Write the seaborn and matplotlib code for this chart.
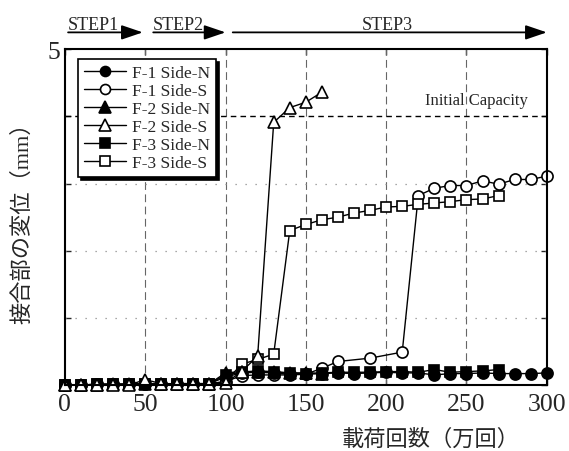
import matplotlib
matplotlib.use("Agg")
import matplotlib.pyplot as plt
import numpy as np
import pandas as pd
import seaborn as sns

# load cycles (x 10^4) and joint displacement (mm)
cycles_f1n = list(range(0, 301, 10))
disp_f1n = [0.00, 0.00, 0.01, 0.01, 0.01, 0.02, 0.01, 0.02, 0.02, 0.02, 0.12,
            0.18, 0.19, 0.18, 0.16, 0.16, 0.17, 0.18, 0.17, 0.18, 0.19,
            0.18, 0.18, 0.15, 0.17, 0.17, 0.18, 0.17, 0.17, 0.17, 0.18]

cycles_f1s = list(range(0, 171, 10)) + [190, 210, 220, 230, 240, 250, 260, 270, 280, 290, 300]
disp_f1s = [0.00, 0.00, 0.01, 0.01, 0.01, 0.02, 0.01, 0.02, 0.02, 0.02, 0.05,
            0.14, 0.15, 0.15, 0.15, 0.16, 0.25, 0.35, 0.40, 0.49,
            2.82, 2.93, 2.97, 2.97, 3.04, 2.99, 3.06, 3.06, 3.11]

cycles_f2n = list(range(0, 161, 10))
disp_f2n = [0.00, 0.00, 0.00, 0.01, 0.01, 0.02, 0.01, 0.01, 0.02, 0.02, 0.18,
            0.20, 0.20, 0.19, 0.18, 0.18, 0.17]

cycles_f2s = list(range(0, 161, 10))
disp_f2s = [0.00, 0.00, 0.00, 0.00, 0.00, 0.08, 0.02, 0.02, 0.02, 0.01, 0.03,
            0.20, 0.43, 3.91, 4.13, 4.21, 4.36]

cycles_f3n = list(range(0, 271, 10))
disp_f3n = [0.00, 0.00, 0.01, 0.01, 0.01, 0.02, 0.01, 0.02, 0.02, 0.02, 0.15,
            0.19, 0.21, 0.20, 0.18, 0.17, 0.18, 0.19, 0.19, 0.19, 0.20,
            0.20, 0.19, 0.23, 0.19, 0.20, 0.21, 0.23]

cycles_f3s = list(range(0, 271, 10))
disp_f3s = [0.00, 0.00, 0.01, 0.01, 0.01, 0.02, 0.01, 0.02, 0.02, 0.02, 0.05,
            0.31, 0.38, 0.46, 2.30, 2.39, 2.46, 2.50, 2.56, 2.60, 2.65,
            2.66, 2.69, 2.71, 2.73, 2.76, 2.77, 2.82]

initial_capacity = 4.0
x_ticks = [0, 50, 100, 150, 200, 250, 300]
step_arrows = [(2, 48.5), (55, 100), (104.5, 300)]
step_names = ["STEP1", "STEP2", "STEP3"]
step_text_x = [2, 55, 201]

sns.set_style("ticks")
plt.rcParams["font.family"] = ["Liberation Serif", "Noto Sans CJK JP"]
plt.rcParams["axes.unicode_minus"] = False

fig = plt.figure(figsize=(5.69, 4.52), dpi=100)
ax = fig.add_axes([0.114, 0.146, 0.847, 0.743])

# grid
for gx in x_ticks[1:-1]:
    ax.axvline(gx, color="0.4", lw=0.8, ls=(0, (7, 4)), zorder=1)
for gy in [1, 2, 3]:
    ax.axhline(gy, color="0.55", lw=0.9, ls=(0, (1, 7)), zorder=1)
ax.axhline(initial_capacity, color="black", lw=1.0, ls=(0, (4, 3)), zorder=1)
ax.text(288, initial_capacity + 0.18, "Initial Capacity", ha="right", va="baseline",
        fontsize=12)

series = [
    (cycles_f1s, disp_f1s, "o", "white", 8, "F-1 Side-S"),
    (cycles_f3s, disp_f3s, "s", "white", 7.5, "F-3 Side-S"),
    (cycles_f2n, disp_f2n, "^", "black", 9, "F-2 Side-N"),
    (cycles_f3n, disp_f3n, "s", "black", 7.5, "F-3 Side-N"),
    (cycles_f1n, disp_f1n, "o", "black", 8, "F-1 Side-N"),
    (cycles_f2s, disp_f2s, "^", "white", 9, "F-2 Side-S"),
]
for i, (xs, ys, mk, fc, ms, lab) in enumerate(series):
    sns.lineplot(x=xs, y=ys, ax=ax, color="black", lw=1.0, marker=mk,
                 markersize=ms, markerfacecolor=fc, markeredgecolor="black",
                 markeredgewidth=1.2, label=lab, zorder=3 + i, clip_on=False)

ax.set_xlim(0, 300)
ax.set_ylim(0, 5)
ax.set_xticks(x_ticks)
ax.set_xticklabels([str(t) for t in x_ticks], fontsize=18.5)
ax.set_yticks([0, 1, 2, 3, 4, 5])
ax.set_yticklabels(["", "", "", "", "", "5"], fontsize=18.5)
ax.tick_params(direction="in", top=True, right=True, length=4, width=1, pad=3)
ax.tick_params(axis="x", pad=6)
for sp in ax.spines.values():
    sp.set_linewidth(1.5)
    sp.set_color("black")
    sp.set_zorder(20)

ax.set_xlabel("載荷回数（万回）", fontsize=16)
ax.xaxis.set_label_coords(0.76, -0.13)
ax.set_ylabel("接合部の変位（mm）", fontsize=16)
ax.yaxis.set_label_coords(-0.066, 0.5)

# legend in original order
handles, labels = ax.get_legend_handles_labels()
order = ["F-1 Side-N", "F-1 Side-S", "F-2 Side-N", "F-2 Side-S", "F-3 Side-N", "F-3 Side-S"]
hmap = dict(zip(labels, handles))
leg = ax.legend([hmap[o] for o in order], order, loc="upper left",
                bbox_to_anchor=(0.027, 0.97), fontsize=12.5, frameon=True,
                fancybox=False, edgecolor="black", framealpha=1,
                shadow={"color": "black", "alpha": 1}, handlelength=2.4,
                labelspacing=0.1, borderpad=0.35, handletextpad=0.35,
                borderaxespad=0, markerscale=0.9)
leg.get_frame().set_linewidth(1.2)
leg.set_zorder(30)

# loading steps above the axes
for (x0, x1) in step_arrows:
    ax.annotate("", xy=(x1, 1.05), xytext=(x0, 1.05),
                xycoords=("data", "axes fraction"),
                textcoords=("data", "axes fraction"),
                arrowprops=dict(arrowstyle="-|>,head_length=0.5,head_width=0.17",
                                color="black", lw=1.3, mutation_scale=26,
                                shrinkA=0, shrinkB=0),
                annotation_clip=False)
for xpos, name in zip(step_text_x, step_names):
    ha = "center" if name == "STEP3" else "left"
    ax.text(xpos, 1.059, name, transform=ax.get_xaxis_transform(), ha=ha,
            va="baseline", fontsize=13)

fig.savefig("out.png", dpi=100)
